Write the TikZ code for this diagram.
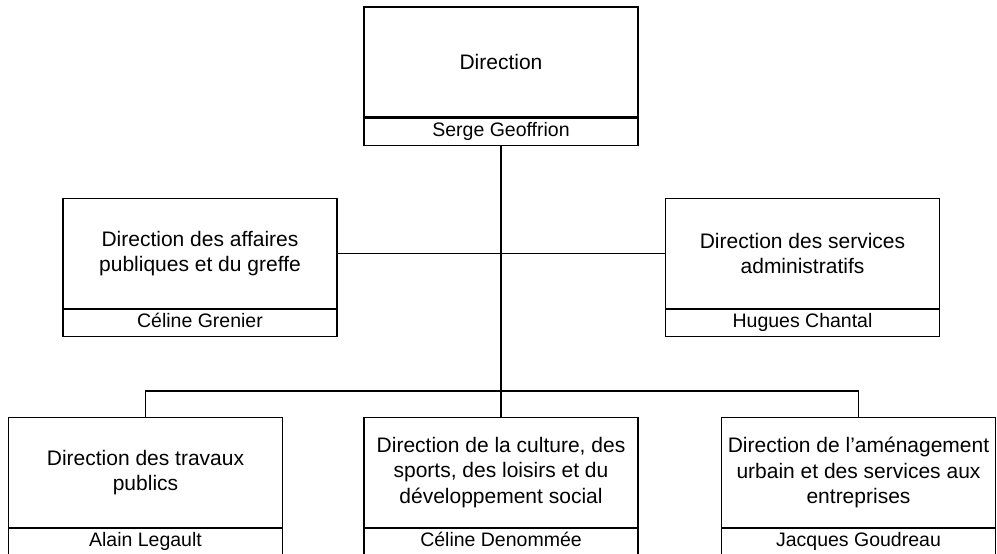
\documentclass[tikz,border=0pt]{standalone}
\usepackage{fontspec}
\setmainfont{Liberation Sans}
\begin{document}
\begin{tikzpicture}[x=1pt,y=-1pt,
  titlebox/.style={draw=black,line width=1.1pt,rectangle,inner sep=0pt,minimum width=274pt,minimum height=110pt,align=center,font=\fontsize{21}{25.5}\selectfont},
  namebox/.style={draw=black,line width=1.1pt,rectangle,inner sep=0pt,minimum width=274pt,minimum height=27pt,text height=14pt,text depth=4.5pt,align=center,font=\fontsize{19.5}{22}\selectfont},
  link/.style={draw=black,line width=1.1pt},
  trunk/.style={draw=black,line width=2.8pt}]
\useasboundingbox (0,0) rectangle (997,554);
% top
\node[titlebox] (top) at (501,62) {Direction};
\node[namebox,anchor=north] (topn) at (top.south) {Serge Geoffrion};
% middle row
\node[titlebox] (ml) at (200,253.5) {Direction des affaires\\publiques et du greffe};
\node[namebox,anchor=north] (mln) at (ml.south) {Céline Grenier};
\node[titlebox] (mr) at (802.5,253.5) {Direction des services\\administratifs};
\node[namebox,anchor=north] (mrn) at (mr.south) {Hugues Chantal};
% bottom row
\node[titlebox] (bl) at (145.5,472.5) {Direction des travaux\\publics};
\node[namebox,anchor=north] (bln) at (bl.south) {Alain Legault};
\node[titlebox] (bm) at (501,472.5) {Direction de la culture, des\\sports, des loisirs et du\\développement social};
\node[namebox,anchor=north] (bmn) at (bm.south) {Céline Denommée};
\node[titlebox] (br) at (858.5,472.5) {Direction de l’aménagement\\urbain et des services aux\\entreprises};
\node[namebox,anchor=north] (brn) at (br.south) {Jacques Goudreau};
% connectors
\coordinate (bus) at (501,391);
\draw[link] (ml.east) -- (mr.west);
\draw[link] (bl.north) |- (bus) -| (br.north);
\draw[link] (bus) -- (bm.north);
\draw[trunk] (topn.south) -- (bus);
\end{tikzpicture}
\end{document}
